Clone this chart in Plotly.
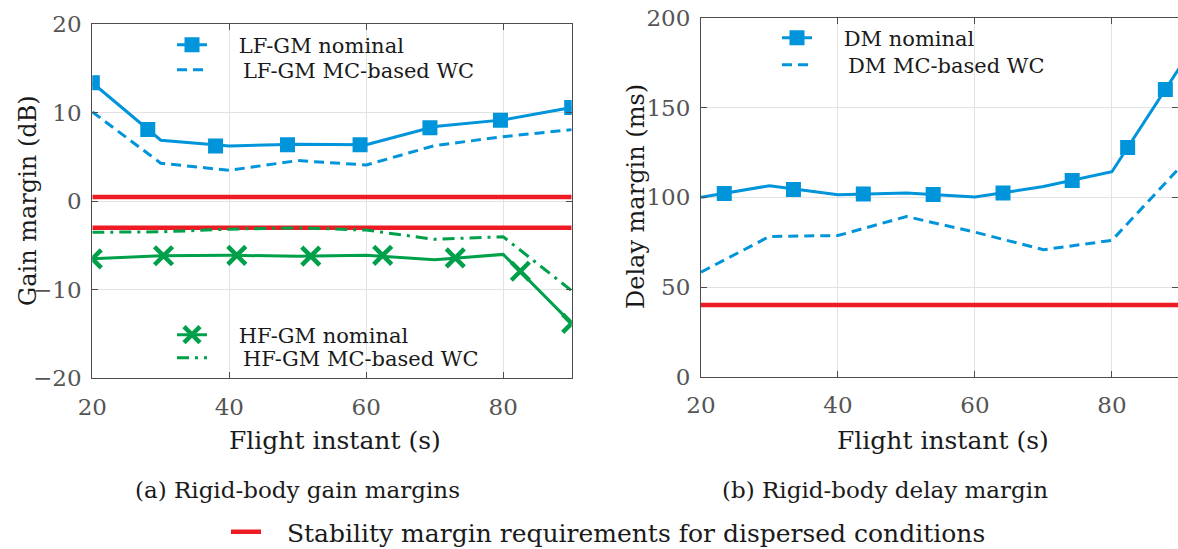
import plotly.graph_objects as go

# ---- data -------------------------------------------------------------
t = [20, 30, 40, 50, 60, 70, 80, 90]

lf_nom = [13.4, 6.9, 6.25, 6.45, 6.4, 8.45, 9.2, 10.6]
lf_wc = [10.1, 4.3, 3.5, 4.6, 4.1, 6.3, 7.3, 8.1]
lf_mk_t = [20, 28.1, 38, 48.5, 59.1, 69.3, 79.6, 90]
lf_mk_v = [13.4, 8.1, 6.25, 6.4, 6.4, 8.3, 9.15, 10.6]

hf_nom = [-6.5, -6.15, -6.1, -6.2, -6.1, -6.6, -6.0, -13.8]
hf_wc = [-3.5, -3.45, -3.15, -3.0, -3.25, -4.3, -4.0, -10.1]
hf_mk_t = [20, 30.4, 41.1, 51.9, 62.4, 73, 82.5, 90]
hf_mk_v = [-6.5, -6.15, -6.1, -6.2, -6.1, -6.4, -7.9, -13.8]

gm_req = [0.5, -3.0]

dm_nom = [100, 106.5, 101.5, 102.4, 100.2, 106, 114.3, 173]
dm_wc = [58.3, 78.2, 78.7, 89.3, 80.6, 70.8, 76, 117]
dm_mk_t = [23.4, 33.5, 43.7, 53.9, 64.1, 74.2, 82.3, 87.8]
dm_mk_v = [102.2, 104.4, 101.9, 101.6, 102.4, 109.4, 127.8, 160.2]

dm_req = 40

# ---- styling ----------------------------------------------------------
BLUE = "#0094DA"
GREEN = "#00A04B"
RED = "#ED1C24"
FONT = "'DejaVu Serif', 'Liberation Serif', serif"
TXT = "#1A1A1A"
W, H = 1178, 549
PAD_NOM = "\u00a0" * 4
PAD_WC = "\u00a0" * 4 + "\u2009"

SQUARE = dict(symbol="square", size=15, color=BLUE)
CROSS = dict(symbol="x-thin", size=18, color=GREEN, line=dict(color=GREEN, width=4.5))

fig = go.Figure()

# gain margins (left)
fig.add_trace(go.Scatter(x=t, y=lf_wc, mode="lines", xaxis="x", yaxis="y",
                         line=dict(color=BLUE, width=3, dash="10px,6px"),
                         name=PAD_WC + "LF-GM MC-based WC", legend="legend5"))
fig.add_trace(go.Scatter(x=t, y=lf_nom, mode="lines", xaxis="x", yaxis="y",
                         line=dict(color=BLUE, width=3), showlegend=False))
fig.add_trace(go.Scatter(x=lf_mk_t, y=lf_mk_v, mode="markers", xaxis="x", yaxis="y",
                         marker=SQUARE, showlegend=False))
fig.add_trace(go.Scatter(x=[None], y=[None], mode="lines+markers", xaxis="x", yaxis="y",
                         line=dict(color=BLUE, width=3), marker=SQUARE,
                         name=PAD_NOM + "LF-GM nominal", legend="legend"))

for r in gm_req:
    fig.add_trace(go.Scatter(x=[t[0], t[-1]], y=[r, r], mode="lines", xaxis="x", yaxis="y",
                             line=dict(color=RED, width=4.5), showlegend=False))

fig.add_trace(go.Scatter(x=t, y=hf_wc, mode="lines", xaxis="x", yaxis="y",
                         line=dict(color=GREEN, width=3, dash="12px,6px,3px,6px"),
                         name=PAD_WC + "HF-GM MC-based WC", legend="legend6"))
fig.add_trace(go.Scatter(x=t, y=hf_nom, mode="lines", xaxis="x", yaxis="y",
                         line=dict(color=GREEN, width=3), showlegend=False))
fig.add_trace(go.Scatter(x=hf_mk_t, y=hf_mk_v, mode="markers", xaxis="x", yaxis="y",
                         marker=CROSS, showlegend=False))
fig.add_trace(go.Scatter(x=[None], y=[None], mode="lines+markers", xaxis="x", yaxis="y",
                         line=dict(color=GREEN, width=3), marker=CROSS,
                         name=PAD_NOM + "HF-GM nominal", legend="legend2"))

# delay margin (right)
fig.add_trace(go.Scatter(x=t, y=[dm_req] * len(t), mode="lines", xaxis="x2", yaxis="y2",
                         line=dict(color=RED, width=4.5),
                         name="\u00a0\u00a0\u2009Stability margin requirements for dispersed conditions",
                         legend="legend4"))
fig.add_trace(go.Scatter(x=t, y=dm_wc, mode="lines", xaxis="x2", yaxis="y2",
                         line=dict(color=BLUE, width=3, dash="10px,6px"),
                         name=PAD_WC + "DM MC-based WC", legend="legend7"))
fig.add_trace(go.Scatter(x=t, y=dm_nom, mode="lines", xaxis="x2", yaxis="y2",
                         line=dict(color=BLUE, width=3), showlegend=False))
fig.add_trace(go.Scatter(x=dm_mk_t, y=dm_mk_v, mode="markers", xaxis="x2", yaxis="y2",
                         marker=SQUARE, showlegend=False))
fig.add_trace(go.Scatter(x=[None], y=[None], mode="lines+markers", xaxis="x2", yaxis="y2",
                         line=dict(color=BLUE, width=3), marker=SQUARE,
                         name=PAD_NOM + "DM nominal", legend="legend3"))

axis_common = dict(showgrid=True, gridcolor="#E3E3E3", gridwidth=1, automargin=False,
                   showline=True, linecolor="#4D4D4D", linewidth=1.2, mirror="ticks",
                   ticks="inside", ticklen=6, tickcolor="#4D4D4D", zeroline=False,
                   tickfont=dict(family=FONT, size=23, color="#555555"))
x_common = dict(ticklabelstandoff=8, **axis_common)
y_common = dict(ticklabelstandoff=5, **axis_common)


def row_legend(x_px, y_px, size=21):
    return dict(x=x_px / W, y=1 - y_px / H, xanchor="left", yanchor="middle",
                bgcolor="rgba(0,0,0,0)", font=dict(family=FONT, size=size, color=TXT))


def label(text, x_px, y_px, size, angle=0):
    return dict(text=text, x=x_px / W, y=1 - y_px / H, xref="paper", yref="paper",
                xanchor="center", yanchor="middle", textangle=angle, showarrow=False,
                font=dict(family=FONT, size=size, color=TXT))


fig.update_layout(
    width=W, height=H,
    margin=dict(l=0, r=0, t=0, b=0, autoexpand=False),
    paper_bgcolor="white", plot_bgcolor="white",
    font=dict(family=FONT, color=TXT),
    xaxis=dict(domain=[92.3 / W, 571.7 / W], range=[20, 90], dtick=20, anchor="y", **x_common),
    yaxis=dict(domain=[1 - 378.3 / H, 1 - 24.3 / H], range=[-20, 20], dtick=10, anchor="x", **y_common),
    xaxis2=dict(domain=[701 / W, 1.0], range=[20, 89.65], dtick=20, anchor="y2", **x_common),
    yaxis2=dict(domain=[1 - 376.7 / H, 1 - 18 / H], range=[0, 200], dtick=50, anchor="x2", **y_common),
    legend=row_legend(172, 45),
    legend5=row_legend(172, 70),
    legend2=row_legend(172, 335),
    legend6=row_legend(172, 358),
    legend3=row_legend(777, 38),
    legend7=row_legend(777, 65),
    legend4=row_legend(226, 532, size=25),
    annotations=[
        label("Gain margin (dB)", 28, 201, 24, -90),
        label("Delay margin (ms)", 636, 197, 24, -90),
        label("Flight instant (s)", 335, 440, 25),
        label("Flight instant (s)", 943, 440, 25),
        label("(a) Rigid-body gain margins", 297, 490, 23),
        label("(b) Rigid-body delay margin", 885, 490, 23),
    ],
)

fig.write_html("out.html")
